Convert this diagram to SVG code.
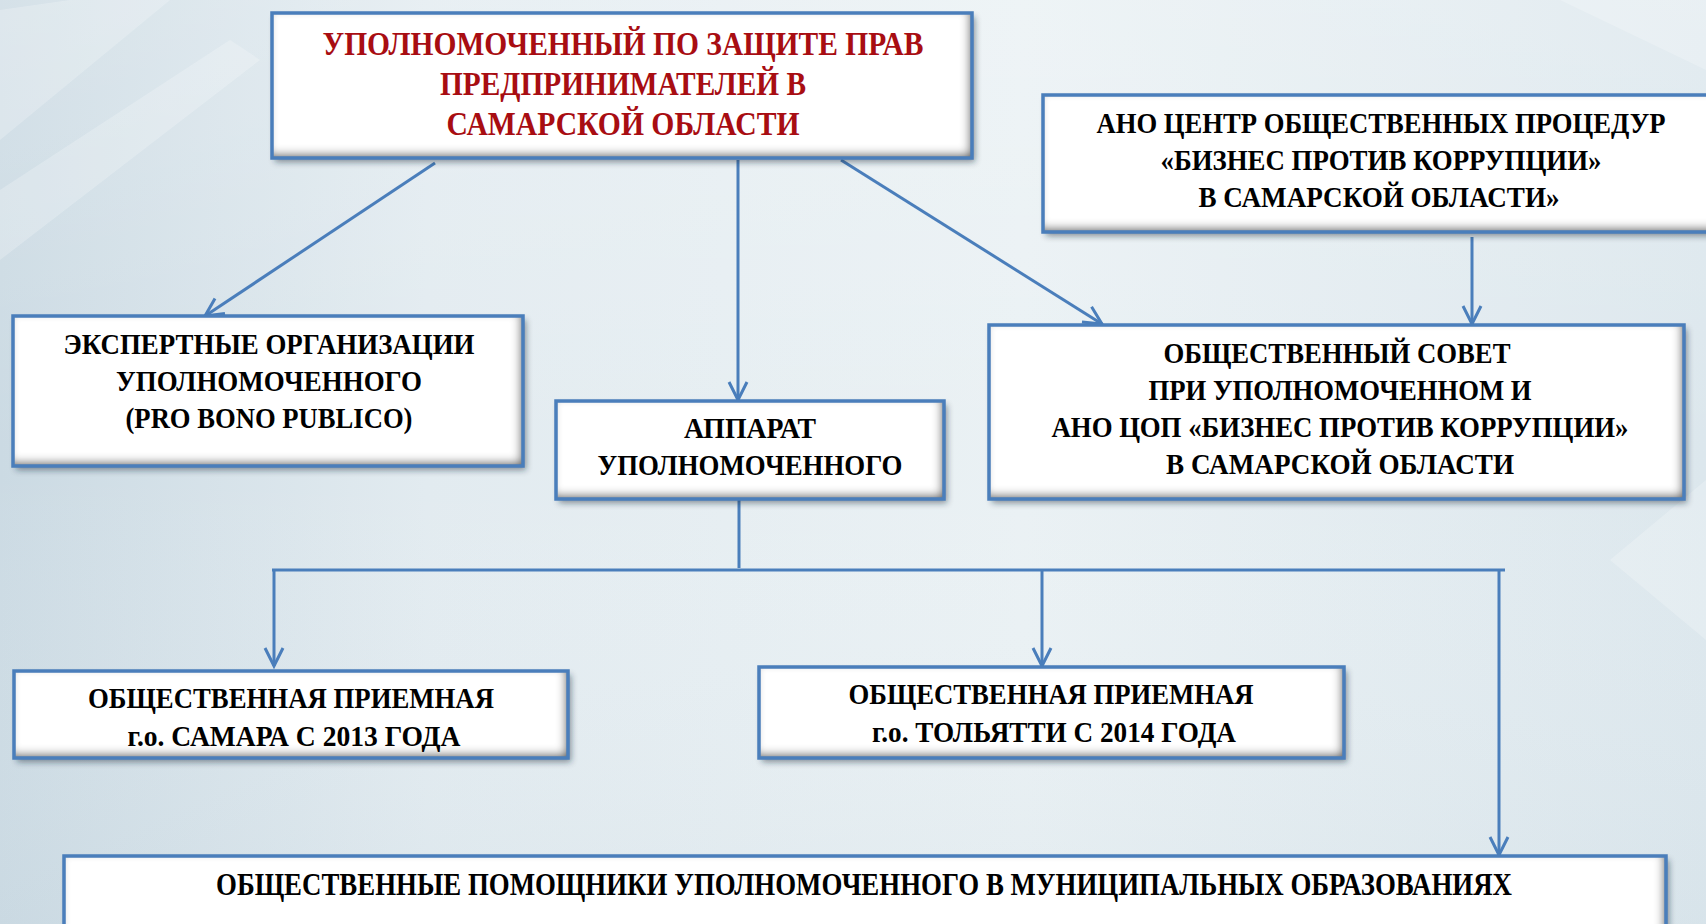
<svg xmlns="http://www.w3.org/2000/svg" width="1706" height="924" viewBox="0 0 1706 924">
<defs>
  <linearGradient id="bg" x1="0" y1="0" x2="1" y2="0">
    <stop offset="0" stop-color="#cbdae3"/>
    <stop offset="0.25" stop-color="#e2ebf0"/>
    <stop offset="0.6" stop-color="#eaf1f4"/>
    <stop offset="1" stop-color="#dce7ed"/>
  </linearGradient>
  <linearGradient id="bgv" x1="0" y1="0" x2="0" y2="1">
    <stop offset="0" stop-color="#ffffff" stop-opacity="0.2"/>
    <stop offset="0.5" stop-color="#ffffff" stop-opacity="0"/>
    <stop offset="1" stop-color="#c6d6df" stop-opacity="0.2"/>
  </linearGradient>
  <filter id="box" x="-5%" y="-25%" width="110%" height="150%">
    <feGaussianBlur in="SourceAlpha" stdDeviation="3" result="b"/>
    <feOffset in="b" dx="3" dy="4" result="o"/>
    <feFlood flood-color="#1a2a3a" flood-opacity="0.5"/>
    <feComposite in2="o" operator="in" result="shadow"/>
    <feFlood flood-color="#555555" result="g"/>
    <feComposite in="g" in2="SourceAlpha" operator="out" result="outside"/>
    <feOffset in="outside" dx="-3" dy="-4" result="os"/>
    <feGaussianBlur in="os" stdDeviation="5" result="ob"/>
    <feComposite in="ob" in2="SourceAlpha" operator="in" result="inner"/>
    <feMerge>
      <feMergeNode in="shadow"/>
      <feMergeNode in="SourceGraphic"/>
      <feMergeNode in="inner"/>
    </feMerge>
  </filter>
  <marker id="arr" viewBox="0 0 24 24" refX="21" refY="12" markerWidth="24" markerHeight="24" markerUnits="userSpaceOnUse" orient="auto">
    <path d="M3,3 L21,12 L3,21" fill="none" stroke="#4a7ebb" stroke-width="3" stroke-linejoin="miter"/>
  </marker>
</defs>
<style>
  .fill { fill: #ffffff; filter: url(#box); }
  .edge { fill: none; stroke: #4a7ebb; stroke-width: 3.5; }
  .t { font-family: "Liberation Serif", "Times New Roman", serif; font-weight: bold; font-size: 30px; fill: #000000; text-anchor: middle; }
  .red { fill: #a80d12; font-size: 33px; }
  .big { font-size: 31px; }
  .con { fill: none; stroke: #4a7ebb; stroke-width: 3; }
</style>

<rect x="0" y="0" width="1706" height="924" fill="url(#bg)"/>
<rect x="0" y="0" width="1706" height="924" fill="url(#bgv)"/>
<g opacity="0.22" fill="#ffffff">
  <polygon points="0,10 70,0 170,0 0,140"/>
  <polygon points="0,190 230,40 260,60 0,260"/>
  <polygon points="1560,0 1706,0 1706,70"/>
  <polygon points="1610,560 1706,480 1706,640"/>
</g>

<g id="connectors">
  <line class="con" x1="435" y1="163" x2="205" y2="316" marker-end="url(#arr)"/>
  <line class="con" x1="738" y1="160" x2="738" y2="400" marker-end="url(#arr)"/>
  <line class="con" x1="841" y1="160" x2="1102" y2="324" marker-end="url(#arr)"/>
  <line class="con" x1="1472" y1="237" x2="1472" y2="324" marker-end="url(#arr)"/>
  <line class="con" x1="739" y1="500" x2="739" y2="568"/>
  <line class="con" x1="272" y1="570" x2="1505" y2="570"/>
  <line class="con" x1="274" y1="570" x2="274" y2="666" marker-end="url(#arr)"/>
  <line class="con" x1="1042" y1="570" x2="1042" y2="666" marker-end="url(#arr)"/>
  <line class="con" x1="1499" y1="570" x2="1499" y2="855" marker-end="url(#arr)"/>
</g>

<g id="node-upolnomochenny">
  <rect class="fill" x="272" y="13" width="700" height="145"/>
  <rect class="edge" x="272" y="13" width="700" height="145"/>
  <text class="t red" x="623" y="55" textLength="601" lengthAdjust="spacingAndGlyphs">УПОЛНОМОЧЕННЫЙ ПО ЗАЩИТЕ ПРАВ</text>
  <text class="t red" x="623" y="95" textLength="366" lengthAdjust="spacingAndGlyphs">ПРЕДПРИНИМАТЕЛЕЙ В</text>
  <text class="t red" x="623" y="135" textLength="353" lengthAdjust="spacingAndGlyphs">САМАРСКОЙ ОБЛАСТИ</text>
</g>

<g id="node-ano">
  <rect class="fill" x="1043" y="95" width="690" height="137"/>
  <rect class="edge" x="1043" y="95" width="690" height="137"/>
  <text class="t" x="1381" y="133" textLength="569" lengthAdjust="spacingAndGlyphs">АНО ЦЕНТР ОБЩЕСТВЕННЫХ ПРОЦЕДУР</text>
  <text class="t" x="1381" y="170" textLength="441" lengthAdjust="spacingAndGlyphs">«БИЗНЕС ПРОТИВ КОРРУПЦИИ»</text>
  <text class="t" x="1379" y="207" textLength="361" lengthAdjust="spacingAndGlyphs">В САМАРСКОЙ ОБЛАСТИ»</text>
</g>

<g id="node-experts">
  <rect class="fill" x="13" y="316" width="510" height="150"/>
  <rect class="edge" x="13" y="316" width="510" height="150"/>
  <text class="t" x="269" y="354" textLength="411" lengthAdjust="spacingAndGlyphs">ЭКСПЕРТНЫЕ ОРГАНИЗАЦИИ</text>
  <text class="t" x="269" y="391" textLength="306" lengthAdjust="spacingAndGlyphs">УПОЛНОМОЧЕННОГО</text>
  <text class="t" x="269" y="428" textLength="287" lengthAdjust="spacingAndGlyphs">(PRO BONO PUBLICO)</text>
</g>

<g id="node-apparat">
  <rect class="fill" x="556" y="401" width="388" height="98"/>
  <rect class="edge" x="556" y="401" width="388" height="98"/>
  <text class="t" x="750" y="438" textLength="132" lengthAdjust="spacingAndGlyphs">АППАРАТ</text>
  <text class="t" x="750" y="475" textLength="305" lengthAdjust="spacingAndGlyphs">УПОЛНОМОЧЕННОГО</text>
</g>

<g id="node-sovet">
  <rect class="fill" x="989" y="325" width="695" height="174"/>
  <rect class="edge" x="989" y="325" width="695" height="174"/>
  <text class="t" x="1337" y="363" textLength="347" lengthAdjust="spacingAndGlyphs">ОБЩЕСТВЕННЫЙ СОВЕТ</text>
  <text class="t" x="1340" y="400" textLength="383" lengthAdjust="spacingAndGlyphs">ПРИ УПОЛНОМОЧЕННОМ И</text>
  <text class="t" x="1340" y="437" textLength="577" lengthAdjust="spacingAndGlyphs">АНО ЦОП «БИЗНЕС ПРОТИВ КОРРУПЦИИ»</text>
  <text class="t" x="1340" y="474" textLength="348" lengthAdjust="spacingAndGlyphs">В САМАРСКОЙ ОБЛАСТИ</text>
</g>

<g id="node-samara">
  <rect class="fill" x="14" y="671" width="554" height="87"/>
  <rect class="edge" x="14" y="671" width="554" height="87"/>
  <text class="t" x="291" y="708" textLength="406" lengthAdjust="spacingAndGlyphs">ОБЩЕСТВЕННАЯ ПРИЕМНАЯ</text>
  <text class="t" x="294" y="746" textLength="333" lengthAdjust="spacingAndGlyphs">г.о. САМАРА С 2013 ГОДА</text>
</g>

<g id="node-togliatti">
  <rect class="fill" x="759" y="667" width="585" height="91"/>
  <rect class="edge" x="759" y="667" width="585" height="91"/>
  <text class="t" x="1051" y="704" textLength="405" lengthAdjust="spacingAndGlyphs">ОБЩЕСТВЕННАЯ ПРИЕМНАЯ</text>
  <text class="t" x="1054" y="742" textLength="364" lengthAdjust="spacingAndGlyphs">г.о. ТОЛЬЯТТИ С 2014 ГОДА</text>
</g>

<g id="node-pomoshniki">
  <rect class="fill" x="64" y="856" width="1602" height="100"/>
  <rect class="edge" x="64" y="856" width="1602" height="100"/>
  <text class="t big" x="864" y="895" textLength="1296" lengthAdjust="spacingAndGlyphs">ОБЩЕСТВЕННЫЕ ПОМОЩНИКИ УПОЛНОМОЧЕННОГО В МУНИЦИПАЛЬНЫХ ОБРАЗОВАНИЯХ</text>
</g>
</svg>
